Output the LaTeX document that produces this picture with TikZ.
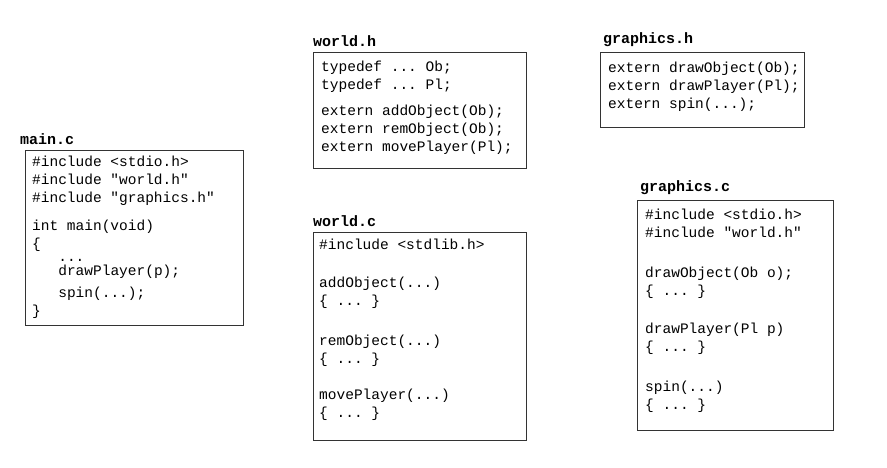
\documentclass[tikz,border=0pt]{standalone}
\usepackage{fontspec}
\setmonofont{Liberation Mono}
\usetikzlibrary{positioning}

\begin{document}
\begin{tikzpicture}[
x=1pt, y=1pt,
filebox/.style={rectangle, draw=black!80, line width=0.8pt, anchor=north west, inner sep=0pt},
codetext/.style={anchor=north west, inner sep=0pt, align=left, font=\ttfamily\fontsize{14.5}{18}\selectfont},
filename/.style={anchor=south west, inner sep=0pt, font=\ttfamily\bfseries\fontsize{15}{18}\selectfont},
]
\useasboundingbox (0,0) rectangle (887,-467);
%Boxes
\node[filebox, minimum width=218, minimum height=175] (mainbox)  at (25,-150) {};
\node[filebox, minimum width=213, minimum height=116] (worldh)   at (313,-52) {};
\node[filebox, minimum width=204, minimum height=75]  (graphh)   at (600,-52) {};
\node[filebox, minimum width=213, minimum height=208] (worldc)   at (313,-232) {};
\node[filebox, minimum width=196, minimum height=230] (graphc)   at (637,-200) {};

%Titles
\node[filename, above right=5pt and -5pt of mainbox.north west] (maintitle) {main.c};
\node[filename, above right=5pt and 0pt of worldh.north west]  (worldhtitle) {world.h};
\node[filename, above right=5pt and 3pt of graphh.north west]  (graphhtitle) {graphics.h};
\node[filename, above right=5pt and 0pt of worldc.north west]  (worldctitle) {world.c};
\node[filename, above right=5pt and 3pt of graphc.north west]  (graphctitle) {graphics.c};

%Code
\node[codetext] (maincode) at ([shift={(7,-6)}]mainbox.north west)
  {\#include <stdio.h>\\ \#include "world.h"\\ \#include "graphics.h"\\[10pt]
   int main(void)\\ \{\\[-5pt] \ \ \ ...\\[-4pt] \ \ \ drawPlayer(p);\\[4pt] \ \ \ spin(...);\\ \}};
\node[codetext] (worldhcode) at ([shift={(8,-9)}]worldh.north west)
  {typedef ... Ob;\\ typedef ... Pl;\\[8pt]
   extern addObject(Ob);\\ extern remObject(Ob);\\ extern movePlayer(Pl);};
\node[codetext] (graphhcode) at ([shift={(8,-10)}]graphh.north west)
  {extern drawObject(Ob);\\ extern drawPlayer(Pl);\\ extern spin(...);};
\node[codetext] (worldccode) at ([shift={(6,-7)}]worldc.north west)
  {\#include <stdlib.h>\\[20pt]
   addObject(...)\\ \{ ... \}\\[22pt]
   remObject(...)\\ \{ ... \}\\[18pt]
   movePlayer(...)\\ \{ ... \}};
\node[codetext] (graphccode) at ([shift={(8,-9)}]graphc.north west)
  {\#include <stdio.h>\\ \#include "world.h"\\[22pt]
   drawObject(Ob o);\\ \{ ... \}\\[20pt]
   drawPlayer(Pl p)\\ \{ ... \}\\[22pt]
   spin(...)\\ \{ ... \}};
\end{tikzpicture}
\end{document}
